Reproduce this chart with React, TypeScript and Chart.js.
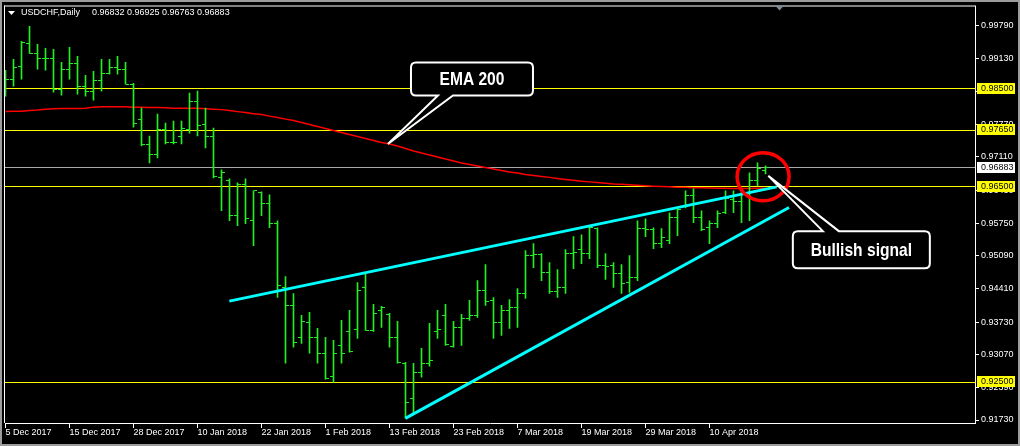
import React, { useEffect, useRef } from "react";
import { Chart, registerables } from "chart.js";

Chart.register(...registerables);

const symbol = "USDCHF";
const period = "Daily";

// bar index of each date label (one bar per trading day)
const xTickIndex = [0, 8, 16, 24, 32, 40, 48, 56, 64, 72, 80, 88];
const xTickLabels = [
  "5 Dec 2017", "15 Dec 2017", "28 Dec 2017", "10 Jan 2018", "22 Jan 2018", "1 Feb 2018",
  "13 Feb 2018", "23 Feb 2018", "7 Mar 2018", "19 Mar 2018", "29 Mar 2018", "10 Apr 2018",
];
const yTicks = [0.9979, 0.9913, 0.9845, 0.9777, 0.9711, 0.9643, 0.9575, 0.9509, 0.9441, 0.9373, 0.9307, 0.9239, 0.9173];

const open = [
  0.98554, 0.98696, 0.98961, 0.9943, 0.99226, 0.99124, 0.99124, 0.98492, 0.989, 0.99022,
  0.98554, 0.98452, 0.98676, 0.98818, 0.98941, 0.989, 0.98594, 0.97881, 0.97372, 0.97148,
  0.97678, 0.97393, 0.97535, 0.97678, 0.98248, 0.9778, 0.97535, 0.9668, 0.96618, 0.95905,
  0.96537, 0.95804, 0.96374, 0.9615, 0.95743, 0.94439, 0.94072, 0.9342, 0.93726, 0.9342,
  0.93094, 0.92626, 0.93257, 0.93543, 0.93583, 0.94439, 0.93563, 0.9397, 0.9389, 0.9342,
  0.92891, 0.92178, 0.92707, 0.92891, 0.93543, 0.93868, 0.93237, 0.93624, 0.93807, 0.93868,
  0.94378, 0.94174, 0.93726, 0.9397, 0.94031, 0.94317, 0.95091, 0.95111, 0.94744, 0.94357,
  0.94439, 0.95131, 0.95213, 0.95131, 0.95641, 0.94887, 0.94887, 0.94724, 0.94541, 0.94643,
  0.95641, 0.9562, 0.95335, 0.95396, 0.95865, 0.96089, 0.96313, 0.95865, 0.95661, 0.95743,
  0.95967, 0.96231, 0.96191, 0.96374, 0.96618, 0.96832,
];
const high = [
  0.9888, 0.99104, 0.9947, 0.99776, 0.99409, 0.99328, 0.99307, 0.99042, 0.99348, 0.99165,
  0.98778, 0.98859, 0.99104, 0.99104, 0.99165, 0.99042, 0.98615, 0.98105, 0.97535, 0.97983,
  0.978, 0.97841, 0.97841, 0.98411, 0.98452, 0.98105, 0.97698, 0.96843, 0.96659, 0.96578,
  0.96659, 0.96415, 0.96394, 0.96333, 0.95804, 0.94663, 0.94317, 0.93868, 0.9393, 0.93604,
  0.9342, 0.93359, 0.93767, 0.9397, 0.94541, 0.94724, 0.94093, 0.94052, 0.93909, 0.93746,
  0.92911, 0.92891, 0.93196, 0.93705, 0.9397, 0.94093, 0.93746, 0.93889, 0.94174, 0.94581,
  0.94907, 0.94235, 0.94072, 0.94194, 0.94418, 0.95193, 0.95335, 0.95131, 0.94948, 0.94805,
  0.95213, 0.95478, 0.95518, 0.95702, 0.95661, 0.95131, 0.94948, 0.94907, 0.95091, 0.95804,
  0.95844, 0.95661, 0.95641, 0.95967, 0.96048, 0.96415, 0.96455, 0.96007, 0.95804, 0.96007,
  0.96415, 0.96415, 0.96455, 0.96781, 0.96985, 0.96925,
];
const low = [
  0.9835, 0.98554, 0.98696, 0.99226, 0.989, 0.9888, 0.98431, 0.9837, 0.98696, 0.98391,
  0.9835, 0.98268, 0.98452, 0.98798, 0.98798, 0.98594, 0.97718, 0.97331, 0.96985, 0.97087,
  0.97372, 0.97372, 0.97372, 0.97596, 0.97535, 0.97291, 0.9668, 0.96007, 0.95804, 0.95702,
  0.95743, 0.95294, 0.95905, 0.95661, 0.94235, 0.92891, 0.93217, 0.93298, 0.93094, 0.92891,
  0.92565, 0.92504, 0.92891, 0.93115, 0.934, 0.93563, 0.93543, 0.93624, 0.93217, 0.92891,
  0.9177, 0.91872, 0.92606, 0.9283, 0.934, 0.93257, 0.93217, 0.93257, 0.93767, 0.93828,
  0.94072, 0.934, 0.93461, 0.93604, 0.93624, 0.94215, 0.94846, 0.94581, 0.94317, 0.94235,
  0.94317, 0.94826, 0.94928, 0.9503, 0.94846, 0.94602, 0.94439, 0.94317, 0.94337, 0.94581,
  0.95478, 0.95233, 0.95254, 0.95335, 0.95498, 0.96068, 0.95763, 0.956, 0.95335, 0.95661,
  0.95946, 0.95967, 0.95763, 0.95804, 0.96517, 0.96763,
];
const close = [
  0.98696, 0.98941, 0.9945, 0.99226, 0.99124, 0.9911, 0.98492, 0.989, 0.99022, 0.98554,
  0.98452, 0.98676, 0.98818, 0.98941, 0.989, 0.98594, 0.978, 0.97372, 0.97148, 0.97678,
  0.97393, 0.97413, 0.97698, 0.98248, 0.97759, 0.97535, 0.967, 0.96781, 0.95905, 0.96537,
  0.95844, 0.96415, 0.9615, 0.95743, 0.9448, 0.94072, 0.93319, 0.93746, 0.9342, 0.93094,
  0.92585, 0.93094, 0.93094, 0.93135, 0.94378, 0.93563, 0.93909, 0.94031, 0.9342, 0.92911,
  0.92096, 0.92707, 0.92891, 0.92952, 0.93583, 0.93278, 0.93624, 0.93807, 0.93868, 0.94378,
  0.94154, 0.93726, 0.9397, 0.94031, 0.94317, 0.95091, 0.95111, 0.94744, 0.94357, 0.94439,
  0.95131, 0.95152, 0.95131, 0.95661, 0.94887, 0.94867, 0.94724, 0.9452, 0.94643, 0.95641,
  0.9562, 0.95335, 0.95457, 0.95865, 0.96028, 0.96313, 0.95865, 0.9562, 0.95743, 0.95946,
  0.96252, 0.96191, 0.96374, 0.96618, 0.96863, 0.96883,
];
const ema200 = [
  0.98038, 0.98044, 0.98044, 0.98055, 0.98065, 0.98085, 0.98095, 0.98099, 0.98099, 0.98099,
  0.98105, 0.98126, 0.98132, 0.98136, 0.98136, 0.98136, 0.98126, 0.98126, 0.98116, 0.98116,
  0.98112, 0.98105, 0.98105, 0.98105, 0.98105, 0.98095, 0.98085, 0.98075, 0.98055, 0.98034,
  0.98014, 0.97993, 0.97973, 0.97942, 0.97912, 0.97881, 0.97851, 0.9781, 0.97769, 0.97729,
  0.97688, 0.97647, 0.97606, 0.97566, 0.97525, 0.97484, 0.97443, 0.97403, 0.97372, 0.97331,
  0.9728, 0.9723, 0.97189, 0.97148, 0.97107, 0.97067, 0.97026, 0.96985, 0.96955, 0.96924,
  0.96893, 0.96863, 0.96832, 0.96802, 0.96781, 0.96751, 0.9673, 0.9671, 0.9669, 0.96669,
  0.96649, 0.96629, 0.96612, 0.96598, 0.96584, 0.96572, 0.96557, 0.96547, 0.96537, 0.96527,
  0.96517, 0.9651, 0.96502, 0.96496, 0.9649, 0.96486, 0.9648, 0.96476, 0.96472, 0.96468,
  0.96466, 0.96464, 0.96464, 0.96464, 0.96466, 0.9647,
];
const levels = [0.985, 0.9765, 0.965, 0.925];
const trendUpper = [{ x: 27.98, y: 0.9416 }, { x: 96.4, y: 0.96496 }];
const trendLower = [{ x: 49.98, y: 0.91764 }, { x: 97.94, y: 0.96075 }];

const X_MIN = -0.0625;
const X_MAX = 121.1875;
const Y_MIN = 0.916689;
const Y_MAX = 1.001831;

const FONT = "'Liberation Sans', Arial, sans-serif";
const BAR_COLOR = "#22ee22";
const bidPrice = close[close.length - 1];

const annotations = {
  ema: { text: "EMA 200", cx: 58.31, cy: 0.98703, w: 122, h: 33, tipX: 47.8, tipY: 0.97372, base: [27, 42], side: "bottom" },
  bull: { text: "Bullish signal", cx: 106.98, cy: 0.95213, w: 137, h: 37, tipX: 95.35, tipY: 0.9672, base: [30, 46], side: "top" },
  circle: { x: 94.7, y: 0.96704, rx: 26, ry: 24 },
};

function makeTick(side: "left" | "right") {
  const c = document.createElement("canvas");
  c.width = 7;
  c.height = 1;
  const g = c.getContext("2d")!;
  g.fillStyle = BAR_COLOR;
  g.fillRect(side === "left" ? 0 : 4, 0, 3, 1);
  return c;
}

function drawCallout(ctx: CanvasRenderingContext2D, xs: any, ys: any, a: any) {
  const cx = xs.getPixelForValue(a.cx);
  const cy = ys.getPixelForValue(a.cy);
  const l = cx - a.w / 2, r = cx + a.w / 2, t = cy - a.h / 2, b = cy + a.h / 2;
  const tx = xs.getPixelForValue(a.tipX), ty = ys.getPixelForValue(a.tipY);
  const rad = 5;
  ctx.save();
  ctx.beginPath();
  ctx.moveTo(l + rad, t);
  if (a.side === "top") {
    ctx.lineTo(l + a.base[0], t);
    ctx.lineTo(tx, ty);
    ctx.lineTo(l + a.base[1], t);
  }
  ctx.lineTo(r - rad, t);
  ctx.quadraticCurveTo(r, t, r, t + rad);
  ctx.lineTo(r, b - rad);
  ctx.quadraticCurveTo(r, b, r - rad, b);
  if (a.side === "bottom") {
    ctx.lineTo(l + a.base[1], b);
    ctx.lineTo(tx, ty);
    ctx.lineTo(l + a.base[0], b);
  }
  ctx.lineTo(l + rad, b);
  ctx.quadraticCurveTo(l, b, l, b - rad);
  ctx.lineTo(l, t + rad);
  ctx.quadraticCurveTo(l, t, l + rad, t);
  ctx.closePath();
  ctx.fillStyle = "#000";
  ctx.fill();
  ctx.lineWidth = 2;
  ctx.strokeStyle = "#ffffff";
  ctx.lineJoin = "miter";
  ctx.stroke();
  ctx.translate(cx, cy + 1);
  ctx.scale(0.82, 1);
  ctx.font = `bold 19px ${FONT}`;
  ctx.fillStyle = "#fff";
  ctx.textAlign = "center";
  ctx.textBaseline = "middle";
  ctx.fillText(a.text, 0, 0);
  ctx.restore();
}

const mt4Plugin = {
  id: "mt4",
  beforeDraw(chart: any) {
    const ctx = chart.ctx;
    ctx.save();
    ctx.fillStyle = "#000";
    ctx.fillRect(0, 0, chart.width, chart.height);
    ctx.restore();
  },
  beforeDatasetsDraw(chart: any) {
    chart.ctx.imageSmoothingEnabled = false;
  },
  afterDraw(chart: any) {
    const ctx: CanvasRenderingContext2D = chart.ctx;
    const ca = chart.chartArea;
    const xs = chart.scales.x;
    const ys = chart.scales.y;
    ctx.save();
    // frame (top, left)
    ctx.fillStyle = "#ffffff";
    ctx.fillRect(ca.left - 1, ca.top - 1, ca.right - ca.left + 2, 1);
    ctx.fillRect(ca.left - 1, ca.top - 1, 1, ca.bottom - ca.top + 1);
    // window edges
    ctx.fillStyle = "#9c9c9c";
    ctx.fillRect(0, 0, chart.width, 2);
    ctx.fillRect(0, 0, 2, chart.height);
    ctx.fillRect(0, chart.height - 2, chart.width, 2);
    ctx.fillRect(chart.width - 2, 0, 2, chart.height);
    // chart shift marker
    ctx.fillStyle = "#7d8b99";
    ctx.beginPath();
    ctx.moveTo(ca.right - 200, ca.top - 1);
    ctx.lineTo(ca.right - 191, ca.top - 1);
    ctx.lineTo(ca.right - 195.5, ca.top + 4);
    ctx.closePath();
    ctx.fill();
    // header
    ctx.fillStyle = "#fff";
    ctx.beginPath();
    ctx.moveTo(8, 11);
    ctx.lineTo(15, 11);
    ctx.lineTo(11.5, 15);
    ctx.closePath();
    ctx.fill();
    ctx.font = `9px ${FONT}`;
    ctx.textBaseline = "middle";
    ctx.textAlign = "left";
    const n = close.length - 1;
    ctx.fillText(`${symbol},${period}`, 21, 13);
    ctx.fillText(
      [open[n], high[n], low[n], close[n]].map((v) => v.toFixed(5)).join(" "),
      92,
      13
    );
    // price tags
    const tag = (v: number, bg: string) => {
      const y = Math.round(ys.getPixelForValue(v));
      ctx.fillStyle = bg;
      ctx.fillRect(ca.right + 2, y - 6, 38, 11);
      ctx.fillStyle = "#000";
      ctx.fillText(v.toFixed(5), ca.right + 6, y);
    };
    levels.forEach((v) => tag(v, "#ffff00"));
    tag(bidPrice, "#ffffff");
    // circle
    const c = annotations.circle;
    ctx.beginPath();
    ctx.ellipse(xs.getPixelForValue(c.x), ys.getPixelForValue(c.y), c.rx, c.ry, 0, 0, Math.PI * 2);
    ctx.strokeStyle = "#ff0000";
    ctx.lineWidth = 3.5;
    ctx.stroke();
    ctx.restore();
    drawCallout(ctx, xs, ys, annotations.ema);
    drawCallout(ctx, xs, ys, annotations.bull);
  },
};

export default function App() {
  const ref = useRef<HTMLCanvasElement>(null);
  useEffect(() => {
    document.body.style.margin = "0";
    const idx = close.map((_, i) => i);
    const leftTick = makeTick("left");
    const rightTick = makeTick("right");
    const chart = new Chart(ref.current!, {
      type: "bar",
      data: {
        datasets: [
          {
            type: "line",
            data: idx.map((i) => ({ x: i, y: ema200[i] })),
            borderColor: "#ff0000",
            borderWidth: 1.5,
            pointRadius: 0,
            order: 3,
          },
          {
            type: "bar",
            data: idx.map((i) => ({ x: i, y: [low[i], high[i]] })),
            backgroundColor: BAR_COLOR,
            borderWidth: 0,
            barThickness: 1,
            order: 2,
          },
          {
            type: "scatter",
            data: idx.map((i) => ({ x: i, y: open[i] })),
            pointStyle: leftTick,
            pointRadius: 3,
            order: 1,
          },
          {
            type: "scatter",
            data: idx.map((i) => ({ x: i, y: close[i] })),
            pointStyle: rightTick,
            pointRadius: 3,
            order: 1,
          },
          {
            type: "line",
            data: trendUpper,
            borderColor: "#00ffff",
            borderWidth: 3,
            pointRadius: 0,
            order: 0,
          },
          {
            type: "line",
            data: trendLower,
            borderColor: "#00ffff",
            borderWidth: 3,
            pointRadius: 0,
            order: 0,
          },
        ] as any,
      },
      options: {
        responsive: false,
        animation: false,
        events: [],
        layout: { padding: { left: 5, top: 5, right: 0, bottom: 0 } },
        plugins: { legend: { display: false }, tooltip: { enabled: false }, title: { display: false } },
        scales: {
          x: {
            type: "linear",
            min: X_MIN,
            max: X_MAX,
            offset: false,
            grid: { display: true, drawOnChartArea: false, drawTicks: true, tickLength: 5, color: "#ffffff", offset: false },
            border: { display: true, color: "#ffffff", width: 1 },
            ticks: {
              autoSkip: false,
              maxRotation: 0,
              minRotation: 0,
              align: "start",
              padding: 0,
              color: "#ffffff",
              font: { family: FONT, size: 9, lineHeight: 1 },
              callback: (_v: any, i: number) => xTickLabels[i],
            },
            afterBuildTicks: (s: any) => {
              s.ticks = xTickIndex.map((v) => ({ value: v }));
            },
            afterFit: (s: any) => {
              s.height = 23;
            },
          },
          // horizontal price levels (yellow) and the bid line (gray), pixel-aligned grid lines
          lv: {
            type: "linear",
            position: "left",
            min: Y_MIN,
            max: Y_MAX,
            grid: {
              display: true,
              drawOnChartArea: true,
              drawTicks: false,
              lineWidth: 1,
              color: (c: any) => (c.tick && c.tick.value === bidPrice ? "#a8a8a8" : "#ffff00"),
            },
            border: { display: false },
            ticks: { display: false },
            afterBuildTicks: (s: any) => {
              s.ticks = [...levels, bidPrice].map((v) => ({ value: v }));
            },
            afterFit: (s: any) => {
              s.width = 0;
            },
          },
          y: {
            type: "linear",
            position: "right",
            min: Y_MIN,
            max: Y_MAX,
            grid: { display: true, drawOnChartArea: false, drawTicks: true, tickLength: 4, color: "#ffffff" },
            border: { display: true, color: "#ffffff", width: 1 },
            ticks: {
              autoSkip: false,
              padding: 2,
              color: "#ffffff",
              font: { family: FONT, size: 9, lineHeight: 1 },
              callback: (v: any) => Number(v).toFixed(5),
            },
            afterBuildTicks: (s: any) => {
              s.ticks = yTicks.map((v) => ({ value: v }));
            },
            afterFit: (s: any) => {
              s.width = 45;
            },
          },
        },
      } as any,
      plugins: [mt4Plugin],
    });
    return () => chart.destroy();
  }, []);
  return (
    <div style={{ position: "fixed", left: 0, top: 0, width: 1020, height: 446, background: "#000" }}>
      <canvas ref={ref} width={1020} height={446} style={{ display: "block" }} />
    </div>
  );
}
